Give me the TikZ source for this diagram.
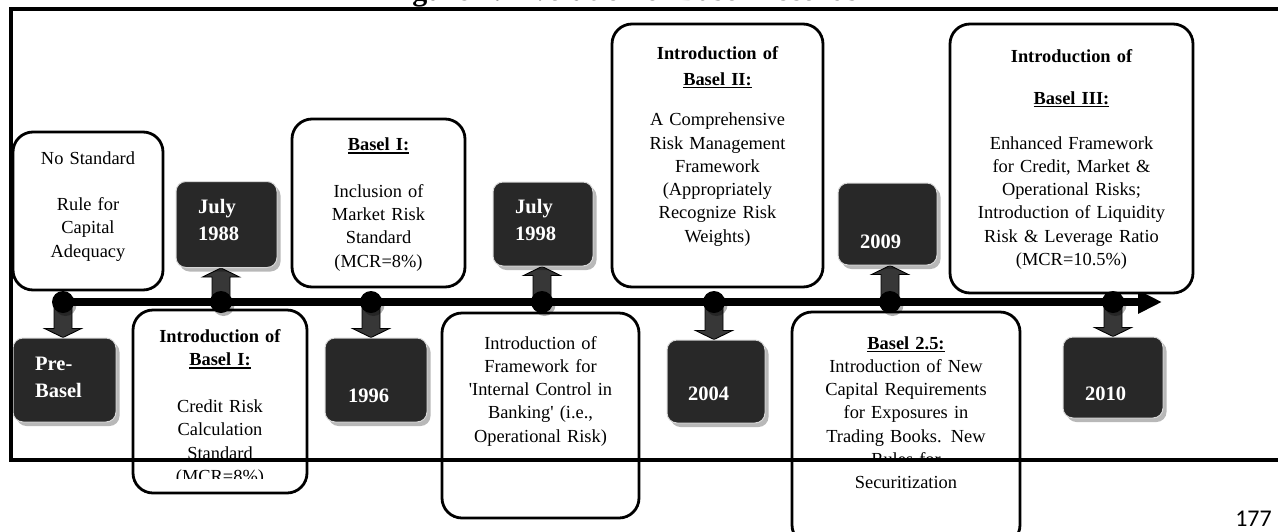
\documentclass[tikz,border=0pt]{standalone}
\usepackage{fontspec}
\setmainfont{Liberation Serif}
\newfontfamily\pagenofont{Carlito}
\usetikzlibrary{arrows.meta,calc,shadows}

\definecolor{datefill}{RGB}{40,40,40}
\definecolor{arrowfill}{RGB}{55,55,55}
\definecolor{dateedge}{RGB}{215,215,215}

\newcommand{\bodysize}{\fontsize{18.4}{23.3}\selectfont}
\newcommand{\datesize}{\fontsize{20.5}{27}\selectfont\bfseries}
% underline with a heavier rule than \underline
\newcommand{\ulin}[1]{\leavevmode\setbox0=\hbox{#1}\rlap{\rule[-3pt]{\wd0}{1.5pt}}\box0}

\pgfdeclarelayer{back}
\pgfsetlayers{back,main}

% block arrow from a timeline dot to the edge of a date box
\newcommand{\blockarrow}[2]{%
  \draw[blockarr] let \p1=(#1.center), \p2=(#1.center |- #2),
    \n1={ifthenelse(\y2>\y1,-9,9)} in
    ({\x1-9pt},\y1) -- ({\x1-9pt},{\y2+\n1*1pt}) -- ({\x1-18.5pt},{\y2+\n1*1pt})
    -- (\x2,\y2) -- ({\x1+18.5pt},{\y2+\n1*1pt}) -- ({\x1+9pt},{\y2+\n1*1pt})
    -- ({\x1+9pt},\y1) -- cycle;}

\begin{document}
\begin{tikzpicture}[x=1pt,y=-1pt,
  infobox/.style={draw=black, line width=2.8pt, fill=white, rounded corners=20pt, inner sep=0pt},
  datebox/.style={draw=dateedge, line width=1pt, fill=datefill, rounded corners=10pt, inner sep=0pt,
    drop shadow={shadow xshift=3.5pt, shadow yshift=-4pt, fill=black, opacity=0.28}},
  txt/.style={anchor=base, align=center, inner sep=0pt, font=\bodysize},
  dtxt/.style={anchor=base west, align=left, inner sep=0pt, text width=80pt, font=\datesize, text=white},
  dot/.style={circle, fill=black, minimum size=22pt, inner sep=0pt,
    drop shadow={shadow xshift=2.5pt, shadow yshift=-3pt, fill=black, opacity=0.3}},
  blockarr/.style={fill=arrowfill, draw=black, line width=0.9pt, line join=miter},
  framerule/.style={line width=4.6pt},
  timeline/.style={line width=8pt, -{Triangle[length=24pt,width=22pt]}}]

\useasboundingbox (0,0) rectangle (1278,531);

% caption, cut by the top edge of the page
\node[anchor=base, inner sep=0pt, font=\fontsize{30}{32}\selectfont\bfseries] (caption) at (622,0.8)
  {Figure 1: Evolution of Basel Accords};

% white information boxes
\node[infobox, minimum width=150pt, minimum height=158pt] (nostd) at (88,211) {};
\node[infobox, minimum width=173pt, minimum height=168pt] (b1top) at (378.5,203) {};
\node[infobox, minimum width=174pt, minimum height=183pt] (b1bot) at (220,401.5) {};
\node[infobox, minimum width=197pt, minimum height=205pt] (icbox) at (540.5,415.5) {};
\node[infobox, minimum width=211pt, minimum height=263pt] (b2box) at (717.5,155.5) {};
\node[infobox, minimum width=228pt, minimum height=233pt] (b25box) at (906,428.5) {};
\node[infobox, minimum width=243pt, minimum height=269pt] (b3box) at (1071.5,158.5) {};

% box texts
\node[txt, text width=140pt] (nostdtxt) at (88,164)
  {No Standard\\[23.3pt]Rule for\\Capital\\Adequacy};
\node[txt, text width=165pt] (b1toptxt) at (378.5,150.5)
  {\textbf{\ulin{Basel I:}}\\[23.3pt]Inclusion of\\Market Risk\\Standard\\(MCR=8\%)};
\begin{scope}
  \clip (120,300) rectangle (320,478);
  \node[txt, text width=165pt] (b1bottxt) at (220,342.5)
    {\textbf{Introduction of}\\\textbf{\ulin{Basel I:}}\\[23.3pt]Credit Risk\\Calculation\\Standard\\(MCR=8\%)};
\end{scope}
\node[txt, text width=190pt] (ictxt) at (540.5,349)
  {Introduction of\\Framework for\\\textquotesingle Internal Control in\\Banking\textquotesingle\ (i.e.,\\Operational Risk)};
\node[txt, font=\bodysize\bfseries, text width=200pt] (b2head) at (717.5,59)
  {Introduction of\\[2.7pt]\ulin{Basel II:}};
\node[txt, text width=200pt] (b2body) at (717.5,125.7)
  {A Comprehensive\\Risk Management\\Framework\\(Appropriately\\Recognize Risk\\Weights)};
\node[txt, font=\bodysize\bfseries, text width=230pt] (b3head) at (1071.5,62)
  {Introduction of\\[18.7pt]\ulin{Basel III:}};
\node[txt, text width=235pt] (b3body) at (1071.5,149)
  {Enhanced Framework\\for Credit, Market \&\\Operational Risks;\\Introduction of Liquidity\\Risk \& Leverage Ratio\\(MCR=10.5\%)};
\begin{scope}
  \clip (785,300) rectangle (1030,457) (785,473) rectangle (1030,560);
  \node[txt, text width=220pt] (b25txt) at (906,349)
    {\textbf{\ulin{Basel 2.5:}}\\Introduction of New\\Capital Requirements\\for Exposures in\\Trading Books. New\\Rules for\\Securitization};
\end{scope}

% dark date boxes
\node[datebox, minimum width=103pt, minimum height=84pt] (preb) at (64.5,380) {};
\node[datebox, minimum width=101pt, minimum height=86pt] (j88) at (226.5,224.5) {};
\node[datebox, minimum width=102pt, minimum height=84pt] (y96) at (376,380) {};
\node[datebox, minimum width=100pt, minimum height=84pt] (j98) at (543,224) {};
\node[datebox, minimum width=98pt, minimum height=83pt] (y04) at (716,381.5) {};
\node[datebox, minimum width=99pt, minimum height=82pt] (y09) at (887.5,224) {};
\node[datebox, minimum width=100pt, minimum height=81pt] (y10) at (1113,377.5) {};

\node[dtxt] (prebt) at (35,370) {Pre-\\Basel};
\node[dtxt] (j88t) at (198,213) {July\\1988};
\node[dtxt] (y96t) at (348,402) {1996};
\node[dtxt] (j98t) at (515,213) {July\\1998};
\node[dtxt] (y04t) at (688,400) {2004};
\node[dtxt] (y09t) at (860,248) {2009};
\node[dtxt] (y10t) at (1085,400) {2010};

% timeline dots
\node[dot] (c1) at (63,302) {};
\node[dot] (c2) at (221,302) {};
\node[dot] (c3) at (371,302) {};
\node[dot] (c4) at (542,302) {};
\node[dot] (c5) at (714,302) {};
\node[dot] (c6) at (890,302) {};
\node[dot] (c7) at (1113,302) {};
\coordinate (tlend) at (1162,302);

% timeline and block arrows, behind the dots
\begin{pgfonlayer}{back}
  \draw[timeline] (c1.center) -- (tlend);
  \blockarrow{c1}{preb.north}
  \blockarrow{c2}{j88.south}
  \blockarrow{c3}{y96.north}
  \blockarrow{c4}{j98.south}
  \blockarrow{c5}{y04.north}
  \blockarrow{c6}{y09.south}
  \blockarrow{c7}{y10.north}
\end{pgfonlayer}

% frame, open on the right
\coordinate (ftr) at (1290,9);
\coordinate (ftl) at (11,9);
\coordinate (fbl) at (11,460);
\coordinate (fbr) at (1290,460);
\draw[framerule] (ftr) -- (ftl) -- (fbl) -- (fbr);

% page number
\node[anchor=base east, inner sep=0pt, font=\pagenofont\fontsize{24}{26}\selectfont] (pageno) at (1272,526) {177};
\end{tikzpicture}
\end{document}
